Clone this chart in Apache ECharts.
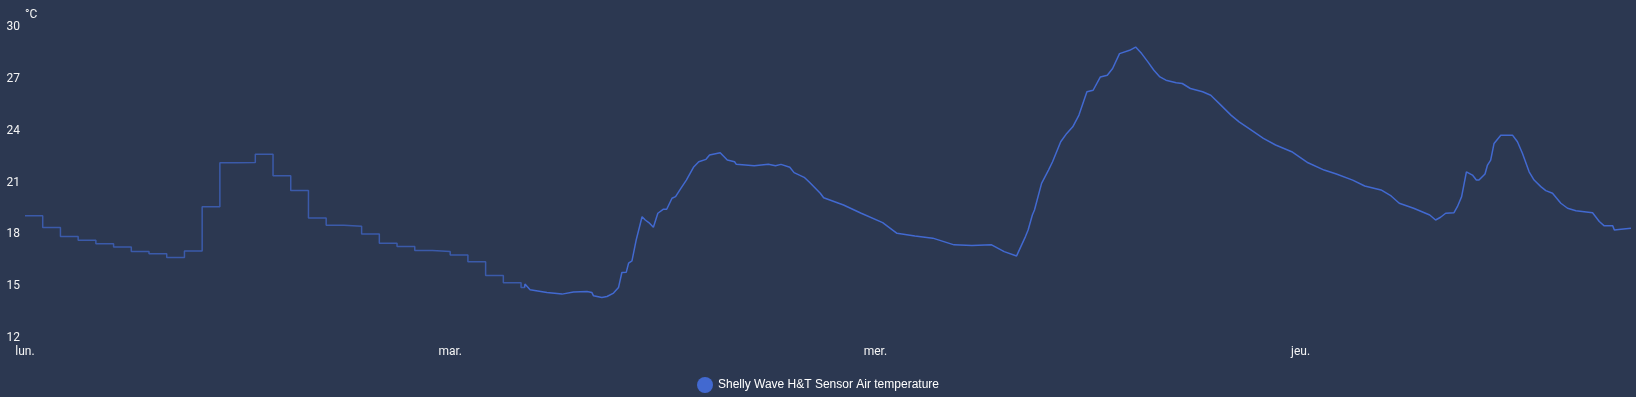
<!DOCTYPE html>
<html>
<head>
<meta charset="utf-8">
<script src="https://cdn.jsdelivr.net/npm/echarts@6/dist/echarts.min.js"></script>
<style>
  html, body { margin: 0; padding: 0; background: #2c3851; }
  #chart { width: 1636px; height: 397px; }
</style>
</head>
<body>
<div id="chart"></div>
<script>
// Day tick labels (one every 24 h)
const dayLabels = ['lun.', 'mar.', 'mer.', 'jeu.'];
const seriesName = 'Shelly Wave H&T Sensor Air temperature';
const unit = '°C';

// Hourly statistics (mean per hour), hours 0..28
const statHours = [0,1,2,3,4,5,6,7,8,9,10,11,12,13,14,15,16,17,18,19,20,21,22,23,24,25,26,27,28,28.2];
const statTemps = [19.08,18.39,17.87,17.66,17.46,17.26,17.0,16.87,16.66,17.04,19.6,22.14,22.16,22.63,21.39,20.53,18.95,18.53,18.47,18.02,17.49,17.29,17.06,17.0,16.81,16.42,15.62,15.2,14.92,14.92];

// Detailed history (hours since Monday 00:00, °C)
const histHours = [28.2,28.22,28.51,29.46,30.31,30.96,31.72,32.0,32.09,32.56,32.85,33.22,33.5,33.69,33.94,34.07,34.26,34.5,
  34.83,35.01,35.21,35.31,35.47,35.72,36.02,36.22,36.52,36.72,37.02,37.33,37.73,38.03,38.44,38.64,39.24,39.34,39.64,40.05,40.15,
  41.16,41.96,42.36,42.67,43.17,43.41,43.98,44.28,44.89,45.08,46.2,47.2,48.41,49.22,50.23,51.24,52.44,53.45,54.56,55.27,55.97,56.47,
  56.62,56.86,56.98,57.38,57.77,58.0,58.46,58.8,59.14,59.49,59.94,60.29,60.7,61.09,61.39,61.78,62.35,62.69,62.8,63.03,63.38,63.72,
  64.06,64.4,64.98,65.32,65.78,66.47,66.93,67.5,68.07,68.53,69.22,69.9,70.59,71.5,72.42,73.33,74.02,74.94,75.62,76.54,77.11,77.57,
  78.38,79.29,79.62,79.9,80.19,80.66,80.85,81.09,81.36,81.7,81.92,82.07,82.41,82.55,82.73,82.92,83.3,83.96,84.24,84.52,84.9,85.18,
  85.56,85.84,86.22,86.69,87.07,87.54,88.48,88.86,89.14,89.62,89.71,90.09,90.65];
const histTemps = [14.92,15.12,14.79,14.63,14.54,14.66,14.69,14.63,14.44,14.34,14.4,14.6,14.92,15.79,15.81,16.33,16.46,17.68,
  19.02,18.83,18.68,18.74,18.41,19.22,19.45,19.45,20.09,20.18,20.66,21.14,21.88,22.2,22.34,22.59,22.72,22.65,22.3,22.2,22.05,
  21.97,22.05,21.97,22.05,21.88,21.57,21.3,21.01,20.38,20.12,19.7,19.22,18.68,18.06,17.91,17.78,17.39,17.35,17.39,17.0,16.75,17.87,
  18.25,19.12,19.41,20.95,21.72,22.2,23.36,23.84,24.22,24.9,26.25,26.34,27.11,27.21,27.6,28.46,28.65,28.84,28.84,28.46,27.98,27.5,
  27.11,26.92,26.77,26.73,26.44,26.25,26.05,25.48,24.9,24.51,24.03,23.55,23.17,22.78,22.14,21.72,21.49,21.14,20.8,20.57,20.22,19.8,
  19.51,19.12,18.83,18.99,19.22,19.25,19.6,20.18,21.62,21.43,21.14,21.14,21.49,22.01,22.3,23.26,23.74,23.74,23.36,22.69,21.62,21.14,
  20.76,20.53,20.38,19.8,19.51,19.37,19.25,18.74,18.49,18.49,18.25,18.3,18.35];

const yTicks = { min: 12, max: 30, interval: 3 };
const xMax = 90.65;

const statData = statHours.map((h, i) => [h, statTemps[i]]);
const histData = histHours.map((h, i) => [h, histTemps[i]]);

const chart = echarts.init(document.getElementById('chart'), null, { renderer: 'canvas' });
chart.setOption({
  backgroundColor: '#2c3851',
  animation: false,
  textStyle: { fontFamily: 'Roboto' },
  grid: { left: 25, right: 5, top: 27, bottom: 59, containLabel: false },
  legend: {
    data: [{ name: seriesName, icon: 'circle', itemStyle: { color: '#4269d0', opacity: 1 } }],
    top: 372,
    left: 'center',
    itemWidth: 16,
    itemHeight: 16,
    itemGap: 10,
    textStyle: { color: '#ffffff', fontSize: 12, fontFamily: 'Liberation Sans' }
  },
  xAxis: {
    type: 'value',
    min: 0,
    max: xMax,
    interval: 24,
    axisLine: { show: false },
    axisTick: { show: false },
    splitLine: { show: false },
    axisLabel: {
      color: '#f4f4f4',
      fontSize: 12,
      margin: 8,
      showMaxLabel: false,
      formatter: function (v) {
        const i = Math.round(v / 24);
        return Math.abs(v - i * 24) < 1e-6 && dayLabels[i] ? dayLabels[i] : '';
      }
    }
  },
  yAxis: {
    type: 'value',
    min: yTicks.min,
    max: yTicks.max,
    interval: yTicks.interval,
    name: unit,
    nameLocation: 'end',
    nameGap: 1,
    nameTextStyle: { color: '#f4f4f4', fontSize: 12, align: 'left' },
    axisLine: { show: false },
    axisTick: { show: false },
    splitLine: { show: false },
    axisLabel: { color: '#f4f4f4', fontSize: 12, margin: 5 }
  },
  series: [
    {
      name: seriesName,
      type: 'line',
      data: statData,
      step: 'end',
      showSymbol: false,
      lineStyle: { color: '#4269d0', width: 1.5, opacity: 0.7 },
      itemStyle: { color: '#4269d0' }
    },
    {
      name: seriesName,
      type: 'line',
      data: histData,
      showSymbol: false,
      lineStyle: { color: '#4269d0', width: 1.5 },
      itemStyle: { color: '#4269d0' }
    }
  ]
});
</script>
</body>
</html>
